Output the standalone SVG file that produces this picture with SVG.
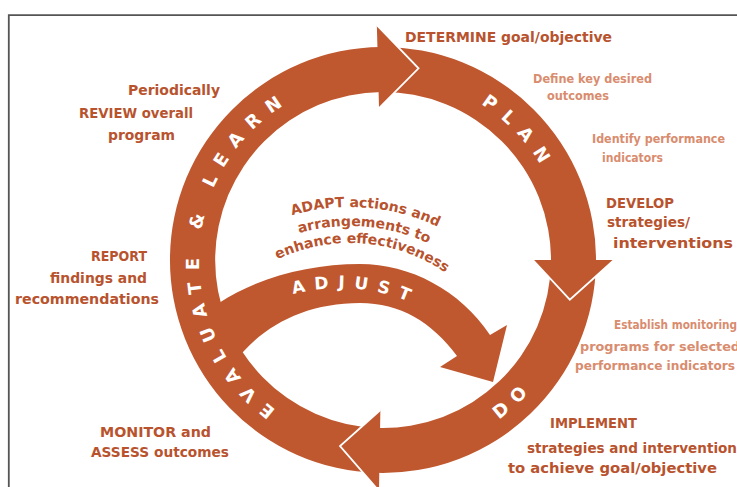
<svg xmlns="http://www.w3.org/2000/svg" width="737" height="487" viewBox="0 0 737 487">
  <defs>
    <style>
      .band{fill:#C0582F}
      .edge{fill:none;stroke:#fff;stroke-width:1.8;stroke-linejoin:miter}
      .ring-label{font-family:"DejaVu Sans","Liberation Sans",sans-serif;font-weight:bold;fill:#fff}
      .lbl{font-family:"DejaVu Sans","Liberation Sans",sans-serif;font-weight:bold;font-size:14px;fill:#B8532E}
      .sub{font-family:"DejaVu Sans","Liberation Sans",sans-serif;font-weight:bold;font-size:12px;fill:#D98C6E}
    </style>
    <!-- baselines for the lettering that follows the arcs -->
    <path id="arc-evaluate" d="M376.58,443.89 A184,184 0 1 1 395.84,76.45"/>
    <path id="arc-plan" d="M389.42,76.11 A184,184 0 0 1 566.89,266.42"/>
    <path id="arc-do" d="M376.12,456.88 A197,197 0 0 0 579.88,266.88"/>
    <path id="arc-adjust" d="M224.30,330.11 A180,180 0 0 1 477.89,352.30"/>
    <path id="arc-adapt-1" d="M172.46,309.5 A205,205 0 0 1 541.38,338.53"/>
    <path id="arc-adapt-2" d="M188.92,319 A186,186 0 0 1 523.65,345.34"/>
    <path id="arc-adapt-3" d="M203.64,327.5 A169,169 0 0 1 507.78,351.44"/>
  </defs>

  <rect width="737" height="487" fill="#fff"/>
  <!-- frame -->
  <path d="M8.8,487 V15.2 H737" fill="none" stroke="#555" stroke-width="1.8"/>

  <g id="connectors">
    <!-- inner loop: ADJUST -->
    <g id="arrow-adjust">
      <path class="band" d="M205,312 L219,303 C259,277 310,264 360,264 C410,264 460,290 490,335 L507,325 L493,382 L440,367 L457,356 C432,322 400,303 360,303 C310,303 270,322 243,352 L232,360 L215,345 Z"/>
    </g>
    <!-- ring bands -->
    <g id="arrow-evaluate-band">
      <path class="band" d="M377.42,472.93 A213,213 0 0 1 381.14,47.01 L381.53,92.01 A168,168 0 0 0 378.60,427.94 Z"/>
    </g>
    <g id="arrow-plan-band">
      <path class="band" d="M379.28,47.03 A213,213 0 0 1 595.97,263.72 L550.97,262.93 A168,168 0 0 0 380.07,92.03 Z"/>
    </g>
    <g id="arrow-do-band">
      <path class="band" d="M595.99,261.86 A213,213 0 0 1 375.57,472.87 L377.14,427.90 A168,168 0 0 0 550.99,261.47 Z"/>
    </g>
    <!-- arrowheads, outlined where they sit over the next band -->
    <g id="arrow-evaluate-head">
      <path class="band" d="M376.85,25.08 L418.54,68.27 L379.02,108.05 Z"/>
      <path class="edge" d="M376.85,25.08 L418.54,68.27 L379.02,108.05"/>
    </g>
    <g id="arrow-plan-head">
      <path class="band" d="M614,260 L569.83,299.71 L533,260 Z"/>
      <path class="edge" d="M614,260 L569.83,299.71 L533,260"/>
    </g>
    <g id="arrow-do-head">
      <path class="band" d="M378.97,490.97 L340.03,446.10 L380.38,409.98 Z"/>
      <path class="edge" d="M378.97,490.97 L340.03,446.10 L380.38,409.98"/>
    </g>
  </g>

  <!-- lettering on the arrows -->
  <g id="stage-evaluate-learn">
    <text class="ring-label" font-size="18" letter-spacing="10.8" text-anchor="middle"><textPath href="#arc-evaluate" startOffset="50%">EVALUATE &amp; LEARN</textPath></text>
  </g>
  <g id="stage-plan">
    <text class="ring-label" font-size="18" letter-spacing="10.5" text-anchor="middle"><textPath href="#arc-plan" startOffset="50%">PLAN</textPath></text>
  </g>
  <g id="stage-do">
    <text class="ring-label" font-size="18" letter-spacing="9" text-anchor="middle"><textPath href="#arc-do" startOffset="50%">DO</textPath></text>
  </g>
  <g id="stage-adjust">
    <text class="ring-label" font-size="17" letter-spacing="9.2" text-anchor="middle"><textPath href="#arc-adjust" startOffset="50%">ADJUST</textPath></text>
  </g>

  <g id="note-adapt">
    <text class="lbl" text-anchor="middle"><textPath href="#arc-adapt-1" startOffset="50%">ADAPT actions and</textPath></text>
    <text class="lbl" text-anchor="middle"><textPath href="#arc-adapt-2" startOffset="50%">arrangements to</textPath></text>
    <text class="lbl" text-anchor="middle"><textPath href="#arc-adapt-3" startOffset="50%">enhance effectiveness</textPath></text>
  </g>

  <!-- plan side -->
  <g id="note-determine">
    <text class="lbl" x="405" y="42" textLength="207" lengthAdjust="spacingAndGlyphs">DETERMINE goal/objective</text>
  </g>
  <g id="note-define">
    <text class="sub" x="533" y="83" textLength="119" lengthAdjust="spacingAndGlyphs">Define key desired</text>
    <text class="sub" x="547" y="100" textLength="62" lengthAdjust="spacingAndGlyphs">outcomes</text>
  </g>
  <g id="note-identify">
    <text class="sub" x="592" y="143" textLength="133" lengthAdjust="spacingAndGlyphs">Identify performance</text>
    <text class="sub" x="602" y="162" textLength="61" lengthAdjust="spacingAndGlyphs">indicators</text>
  </g>
  <g id="note-develop">
    <text class="lbl" x="606" y="208" textLength="68" lengthAdjust="spacingAndGlyphs">DEVELOP</text>
    <text class="lbl" x="607" y="227" textLength="83" lengthAdjust="spacingAndGlyphs">strategies/</text>
    <text class="lbl" x="613" y="248" textLength="120" lengthAdjust="spacingAndGlyphs">interventions</text>
  </g>

  <!-- do side -->
  <g id="note-establish">
    <text class="sub" x="614" y="329" textLength="123" lengthAdjust="spacingAndGlyphs">Establish monitoring</text>
    <text class="sub" x="580" y="351" textLength="160" lengthAdjust="spacingAndGlyphs">programs for selected</text>
    <text class="sub" x="575" y="370" textLength="160" lengthAdjust="spacingAndGlyphs">performance indicators</text>
  </g>
  <g id="note-implement">
    <text class="lbl" x="550" y="428" textLength="87" lengthAdjust="spacingAndGlyphs">IMPLEMENT</text>
    <text class="lbl" x="527" y="453" textLength="210" lengthAdjust="spacingAndGlyphs">strategies and intervention</text>
    <text class="lbl" x="508" y="473" textLength="209" lengthAdjust="spacingAndGlyphs">to achieve goal/objective</text>
  </g>

  <!-- evaluate side -->
  <g id="note-monitor">
    <text class="lbl" x="100" y="437" textLength="111" lengthAdjust="spacingAndGlyphs">MONITOR and</text>
    <text class="lbl" x="91" y="457" textLength="138" lengthAdjust="spacingAndGlyphs">ASSESS outcomes</text>
  </g>
  <g id="note-report">
    <text class="lbl" x="91" y="261" textLength="56" lengthAdjust="spacingAndGlyphs">REPORT</text>
    <text class="lbl" x="50" y="283" textLength="97" lengthAdjust="spacingAndGlyphs">findings and</text>
    <text class="lbl" x="15" y="304" textLength="144" lengthAdjust="spacingAndGlyphs">recommendations</text>
  </g>
  <g id="note-review">
    <text class="lbl" x="128" y="95" textLength="92" lengthAdjust="spacingAndGlyphs">Periodically</text>
    <text class="lbl" x="79" y="118" textLength="114" lengthAdjust="spacingAndGlyphs">REVIEW overall</text>
    <text class="lbl" x="108" y="140" textLength="67" lengthAdjust="spacingAndGlyphs">program</text>
  </g>
</svg>
